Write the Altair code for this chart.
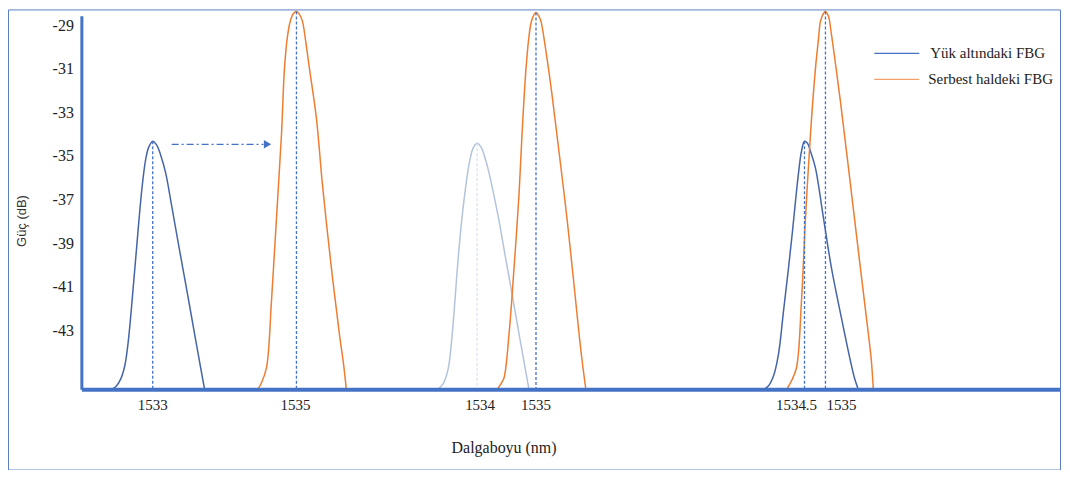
import altair as alt
import pandas as pd

# ---- data (x: schematic wavelength position, y: power in dB) ----
blue1_x = [110, 116, 121, 125, 128, 131, 134, 137, 140, 143, 146, 149, 153, 157, 161, 166, 172, 180, 188, 196, 205]
blue1_y = [-45.70, -45.56, -45.20, -44.60, -43.68, -42.31, -40.71, -39.11, -37.50, -36.13, -35.12, -34.57, -34.30,
           -34.48, -34.94, -35.76, -37.27, -39.33, -41.35, -43.41, -45.70]

orange1_x = [258, 262, 267, 272, 277, 282, 285, 288, 291, 294, 297, 300, 303, 306, 310, 317, 323, 332, 340, 344, 347]
orange1_y = [-45.70, -45.38, -44.69, -41.62, -37.82, -33.98, -30.96, -29.49, -28.76, -28.44, -28.35, -28.48, -28.80,
             -29.63, -30.96, -33.25, -36.27, -40.11, -43.14, -44.46, -45.70]

light2_x = [438, 444, 449, 452, 455, 458, 462, 466, 470, 474, 478, 482, 486, 490, 495, 500, 506, 513, 520, 525, 530]
light2_y = [-45.70, -45.42, -44.74, -43.68, -42.08, -40.25, -38.19, -36.59, -35.35, -34.62, -34.39, -34.57, -35.08,
            -35.76, -36.82, -37.96, -39.52, -41.30, -43.14, -44.42, -45.70]

orange2_x = [498, 502, 505, 510, 515, 520, 523, 527, 530, 533, 537, 540, 542, 547, 553, 560, 568, 575, 582, 587]
orange2_y = [-45.70, -45.42, -45.15, -43.14, -40.11, -36.73, -33.98, -30.96, -29.49, -28.71, -28.40, -28.57, -28.80,
             -30.18, -32.15, -34.76, -37.82, -40.85, -43.91, -45.70]

blue3_x = [765, 770, 775, 780, 785, 790, 794, 797, 800, 803, 806, 809, 812, 817, 825, 833, 843, 852, 856, 860]
blue3_y = [-45.70, -45.52, -45.06, -44.05, -42.08, -40.11, -38.42, -37.05, -35.76, -34.76, -34.30, -34.39, -34.76,
           -35.53, -37.82, -40.11, -42.40, -44.37, -45.15, -45.70]

orange3_x = [788, 793, 798, 803, 807, 812, 817, 820, 822, 825, 827, 830, 833, 837, 842, 852, 862, 870, 873, 875]
orange3_y = [-45.70, -45.29, -44.69, -41.62, -37.82, -33.98, -30.96, -29.63, -28.80, -28.44, -28.35, -28.57, -29.40,
             -30.73, -32.47, -36.27, -40.11, -43.14, -44.37, -45.70]

# peak markers (dotted verticals): position, peak power, style
peak_x = [153, 297, 478, 537, 806, 827]
peak_y = [-34.30, -28.35, -34.39, -28.40, -34.30, -28.35]
peak_light = [False, False, True, False, False, False]

# x tick labels (label anchor positions)
xtick_pos = [153, 296, 481, 537, 798, 843]
xtick_lab = ["1533", "1535", "1534", "1535", "1534.5", "1535"]

# y tick labels
ytick_vals = [-29, -31, -33, -35, -37, -39, -41, -43]

# shift arrow
arrow_x = [172, 264]
arrow_y = -34.44

legend_labels = ["Yük altındaki FBG", "Serbest haldeki FBG"]
legend_colors = ["#4472c4", "#f4a06a"]

BASE = -45.70
AXIS_TOP = -28.57
X_DOM = [8, 1062]
Y_DOM = [-49.362, -28.254]

DARK = "#4565a8"
LIGHT = "#b4c3dc"
ORANGE = "#ed7d31"
AXIS_BLUE = "#4472c4"
SERIF = "Liberation Serif"

xs = alt.Scale(domain=X_DOM, nice=False, zero=False)
ys = alt.Scale(domain=Y_DOM, nice=False, zero=False)


def X(f="x"):
    return alt.X(f, type="quantitative", scale=xs, axis=None)


def Y(f="y"):
    return alt.Y(f, type="quantitative", scale=ys, axis=None)


# curves
rows = []
for name, cx, cy, col in [
    ("b1", blue1_x, blue1_y, DARK),
    ("o1", orange1_x, orange1_y, ORANGE),
    ("l2", light2_x, light2_y, LIGHT),
    ("o2", orange2_x, orange2_y, ORANGE),
    ("b3", blue3_x, blue3_y, DARK),
    ("o3", orange3_x, orange3_y, ORANGE),
]:
    for i, (a, b) in enumerate(zip(cx, cy)):
        rows.append({"curve": name, "x": a, "y": b, "i": i, "col": col})
curves_df = pd.DataFrame(rows)

curves = alt.Chart(curves_df).mark_line(interpolate="catmull-rom", strokeWidth=1.5).encode(
    x=X(), y=Y(), detail="curve:N", order="i:Q",
    color=alt.Color("col:N", scale=None),
)

peaks_df = pd.DataFrame({
    "x": peak_x, "y": peak_y, "y0": [BASE] * len(peak_x),
    "col": ["#dbe4f3" if l else AXIS_BLUE for l in peak_light],
})
peaks = alt.Chart(peaks_df).mark_rule(strokeDash=[3, 2], strokeWidth=1.3).encode(
    x=X(), y=Y(), y2="y0", color=alt.Color("col:N", scale=None),
)

# axes lines
axis_df = pd.DataFrame({"x": [82], "y": [AXIS_TOP], "y0": [BASE]})
yaxis_line = alt.Chart(axis_df).mark_rule(strokeWidth=3, color=AXIS_BLUE).encode(x=X(), y=Y(), y2="y0")
base_df = pd.DataFrame({"x": [82], "x2": [X_DOM[1]], "y": [BASE]})
baseline = alt.Chart(base_df).mark_rule(strokeWidth=4, color=AXIS_BLUE).encode(x=X(), x2="x2", y=Y())

ytick_df = pd.DataFrame({"y": ytick_vals, "label": [str(v) for v in ytick_vals], "x": [74] * len(ytick_vals)})
ytick_text = alt.Chart(ytick_df).mark_text(align="right", baseline="middle", font=SERIF, fontSize=16,
                                           color="#222222").encode(x=X(), y=Y(), text="label:N")

xtick_df = pd.DataFrame({"x": xtick_pos, "label": xtick_lab, "y": [BASE] * len(xtick_pos)})
xtick_text = alt.Chart(xtick_df).mark_text(align="center", baseline="middle", dy=15, font=SERIF, fontSize=15,
                                           color="#222222").encode(x=X(), y=Y(), text="label:N")

# arrow
arrow_df = pd.DataFrame({"x": [arrow_x[0]], "x2": [arrow_x[1]], "y": [arrow_y]})
arrow_line = alt.Chart(arrow_df).mark_rule(strokeDash=[7, 3, 2, 3], strokeWidth=1.3, color=AXIS_BLUE).encode(
    x=X(), x2="x2", y=Y())
head_df = pd.DataFrame({"x": [arrow_x[1] + 4], "y": [arrow_y]})
arrow_head = alt.Chart(head_df).mark_point(shape="triangle-right", filled=True, size=70, color=AXIS_BLUE,
                                           opacity=1).encode(x=X(), y=Y())

# titles
ytitle = alt.Chart(pd.DataFrame({"x": [22], "y": [-37.96], "t": ["Güç (dB)"]})).mark_text(
    angle=270, font="Liberation Sans", fontSize=13, color="#333333", baseline="middle", align="center"
).encode(x=X(), y=Y(), text="t:N")
xtitle = alt.Chart(pd.DataFrame({"x": [505], "y": [-48.36], "t": ["Dalgaboyu (nm)"]})).mark_text(
    font=SERIF, fontSize=16, color="#222222", baseline="middle", align="center"
).encode(x=X(), y=Y(), text="t:N")

# legend
leg_df = pd.DataFrame({
    "x": [876, 876], "x2": [921, 921], "y": [-30.27, -31.46],
    "col": legend_colors, "label": legend_labels, "tx": [932, 930],
})
leg_lines = alt.Chart(leg_df).mark_rule(strokeWidth=1.3).encode(
    x=X(), x2="x2", y=Y(), color=alt.Color("col:N", scale=None))
leg_text = alt.Chart(leg_df).mark_text(align="left", baseline="middle", font=SERIF, fontSize=15,
                                       color="#222222").encode(x=X("tx"), y=Y(), text="label:N")

chart = alt.layer(
    curves, peaks, yaxis_line, baseline, ytick_text, xtick_text, arrow_line, arrow_head,
    ytitle, xtitle, leg_lines, leg_text,
).properties(width=1054, height=461, padding=0, background="white").configure_view(
    stroke="#5a7dc4", strokeWidth=1
)

chart.save("out.html", embed_options={"renderer": "svg", "actions": False})
